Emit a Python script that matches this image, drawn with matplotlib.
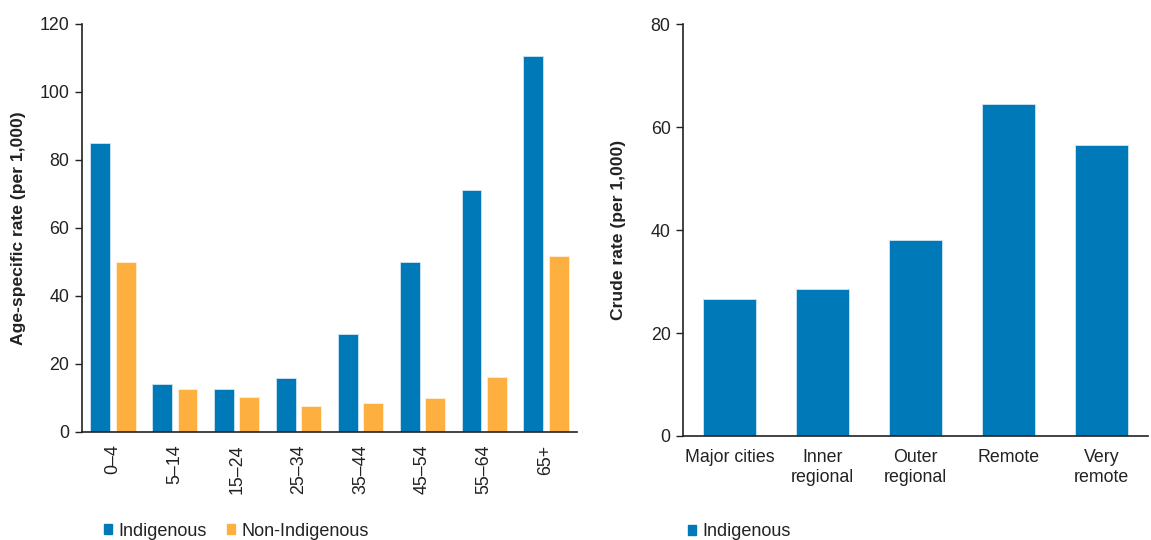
import numpy as np
import matplotlib.pyplot as plt
from matplotlib.patches import Patch

# ---- data ----
age_groups = ["0–4", "5–14", "15–24", "25–34", "35–44", "45–54", "55–64", "65+"]
indigenous_age = [85.0, 14.1, 12.5, 16.0, 28.7, 50.0, 71.2, 110.6]
non_indigenous_age = [49.9, 12.5, 10.3, 7.6, 8.5, 9.9, 16.3, 51.8]

remoteness = ["Major cities", "Inner\nregional", "Outer\nregional", "Remote", "Very\nremote"]
indigenous_remote = [26.7, 28.6, 38.1, 64.6, 56.5]

BLUE = "#0079B8"
ORANGE = "#FDB03F"
TXT = "#222222"


def style_axis(ax):
    for s in ["top", "right"]:
        ax.spines[s].set_visible(False)
    for s in ["left", "bottom"]:
        ax.spines[s].set_color(TXT)
        ax.spines[s].set_linewidth(1.2)
    ax.tick_params(axis="y", length=5, width=1, color=TXT,
                   labelsize=12.8, labelcolor=TXT, pad=4)
    ax.tick_params(axis="x", length=0, labelsize=12.8, labelcolor=TXT)


def main():
    plt.rcParams["font.family"] = ["Liberation Sans", "DejaVu Sans"]
    fig = plt.figure(figsize=(11.51, 5.4), dpi=100)

    # ---- left: age-specific rates ----
    ax1 = fig.add_axes([82 / 1151, 0.2, (577 - 82) / 1151, 0.7556])
    x = np.arange(len(age_groups))
    w = 0.32
    ax1.bar(x - 0.205, indigenous_age, w, color=BLUE, edgecolor="#cfe6f3", linewidth=0.6)
    ax1.bar(x + 0.205, non_indigenous_age, w, color=ORANGE, edgecolor="#fff0d6", linewidth=0.6)
    ax1.set_xlim(-0.5, len(age_groups) - 0.5)
    ax1.set_ylim(0, 120)
    ax1.set_yticks(range(0, 121, 20))
    ax1.set_xticks(x)
    ax1.set_xticklabels(age_groups, rotation=90)
    ax1.set_ylabel("Age-specific rate (per 1,000)", fontsize=12.6, fontweight="bold",
                   color=TXT, labelpad=10)
    style_axis(ax1)
    ax1.tick_params(axis="x", pad=9)
    fig.legend(handles=[Patch(color=BLUE, label="Indigenous"),
                        Patch(color=ORANGE, label="Non-Indigenous")],
               loc="center left", bbox_to_anchor=(88 / 1151, 1 - 531 / 540), ncol=2,
               frameon=False, fontsize=13, handlelength=0.45, handleheight=0.45,
               handletextpad=0.35, columnspacing=1.1, labelcolor=TXT)

    # ---- right: crude rate by remoteness ----
    ax2 = fig.add_axes([683 / 1151, 1 - 436 / 540, (1148 - 683) / 1151, (436 - 24.3) / 540])
    x2 = np.arange(len(remoteness))
    ax2.bar(x2, indigenous_remote, 0.56, color=BLUE, edgecolor="#cfe6f3", linewidth=0.6)
    ax2.set_xlim(-0.5, len(remoteness) - 0.5)
    ax2.set_ylim(0, 80)
    ax2.set_yticks(range(0, 81, 20))
    ax2.set_xticks(x2)
    ax2.set_xticklabels(remoteness, linespacing=1.25)
    ax2.set_ylabel("Crude rate (per 1,000)", fontsize=12.6, fontweight="bold",
                   color=TXT, labelpad=18)
    style_axis(ax2)
    ax2.tick_params(axis="x", pad=9)
    fig.legend(handles=[Patch(color=BLUE, label="Indigenous")],
               loc="center left", bbox_to_anchor=(672 / 1151, 1 - 532 / 540),
               frameon=False, fontsize=13, handlelength=0.45, handleheight=0.45,
               handletextpad=0.35, labelcolor=TXT)

    fig.savefig("out.png", dpi=100)


if __name__ == "__main__":
    main()
